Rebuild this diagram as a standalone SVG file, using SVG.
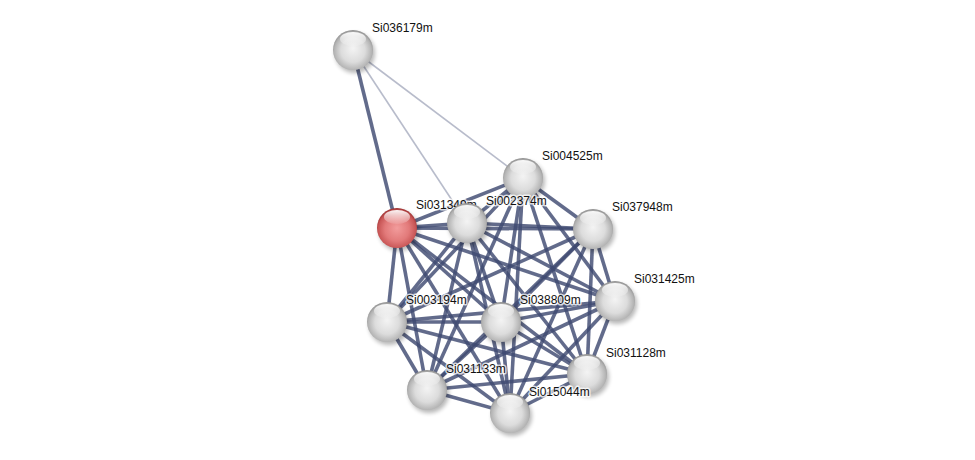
<svg xmlns="http://www.w3.org/2000/svg" width="975" height="460" viewBox="0 0 975 460">
<style>
.e{stroke:#3f4a72;stroke-opacity:0.82;stroke-width:3.6;stroke-linecap:butt;fill:none}
.l{stroke:#b8bccb;stroke-width:1.6;fill:none}
.lbl{font-family:"Liberation Sans",Arial,sans-serif;font-size:12px;fill:#111;stroke:#fff;stroke-opacity:0.75;stroke-width:3;paint-order:stroke;stroke-linejoin:round}
.ball{fill:url(#g)}
.red{fill:url(#r)}
.hi{fill:url(#h)}
.sh{fill:#000;opacity:0.28;filter:url(#b)}
</style>
<defs>
<radialGradient id="g" cx="50%" cy="55%" r="55%" fx="50%" fy="45%">
<stop offset="0" stop-color="#f4f4f4"/>
<stop offset="0.55" stop-color="#dcdcdc"/>
<stop offset="0.85" stop-color="#b4b4b4"/>
<stop offset="1" stop-color="#8e8e8e"/>
</radialGradient>
<radialGradient id="r" cx="50%" cy="55%" r="55%" fx="50%" fy="50%">
<stop offset="0" stop-color="#f29c9c"/>
<stop offset="0.55" stop-color="#e27a7a"/>
<stop offset="0.85" stop-color="#c85656"/>
<stop offset="1" stop-color="#9a2e2e"/>
</radialGradient>
<linearGradient id="h" x1="0" y1="0" x2="0" y2="1">
<stop offset="0" stop-color="#fff" stop-opacity="0.95"/>
<stop offset="1" stop-color="#fff" stop-opacity="0.1"/>
</linearGradient>
<filter id="b" x="-50%" y="-50%" width="200%" height="200%"><feGaussianBlur stdDeviation="2"/></filter>
<g id="sphere">
<circle class="sh" cx="2" cy="3" r="20"/>
<circle class="ball" r="20"/>
<ellipse class="hi" cx="0" cy="-11" rx="13" ry="7"/>
</g>
<g id="rsphere">
<circle class="sh" cx="2" cy="3" r="20"/>
<circle class="red" r="20"/>
<ellipse class="hi" cx="0" cy="-11" rx="13" ry="7"/>
</g>
</defs>
<rect width="975" height="460" fill="#fff"/>
<g id="connectors">
<line class="l" x1="353" y1="50" x2="467" y2="223"/>
<line class="l" x1="353" y1="50" x2="523" y2="178"/>
<line class="e" x1="353" y1="50" x2="397" y2="228"/>
<!-- R -->
<line class="e" x1="397" y1="228" x2="523" y2="178"/>
<line class="e" x1="397" y1="228" x2="467" y2="223"/>
<line class="e" x1="397" y1="228" x2="593" y2="229"/>
<line class="e" x1="397" y1="228" x2="615" y2="301"/>
<line class="e" x1="397" y1="228" x2="387" y2="322"/>
<line class="e" x1="397" y1="228" x2="501" y2="322"/>
<line class="e" x1="397" y1="228" x2="587" y2="374"/>
<line class="e" x1="397" y1="228" x2="427" y2="390"/>
<line class="e" x1="397" y1="228" x2="510" y2="413"/>
<!-- B -->
<line class="e" x1="523" y1="178" x2="467" y2="223"/>
<line class="e" x1="523" y1="178" x2="593" y2="229"/>
<line class="e" x1="523" y1="178" x2="615" y2="301"/>
<line class="e" x1="523" y1="178" x2="387" y2="322"/>
<line class="e" x1="523" y1="178" x2="501" y2="322"/>
<line class="e" x1="523" y1="178" x2="587" y2="374"/>
<line class="e" x1="523" y1="178" x2="427" y2="390"/>
<line class="e" x1="523" y1="178" x2="510" y2="413"/>
<!-- C -->
<line class="e" x1="467" y1="223" x2="593" y2="229"/>
<line class="e" x1="467" y1="223" x2="615" y2="301"/>
<line class="e" x1="467" y1="223" x2="387" y2="322"/>
<line class="e" x1="467" y1="223" x2="501" y2="322"/>
<line class="e" x1="467" y1="223" x2="587" y2="374"/>
<line class="e" x1="467" y1="223" x2="427" y2="390"/>
<line class="e" x1="467" y1="223" x2="510" y2="413"/>
<!-- D -->
<line class="e" x1="593" y1="229" x2="615" y2="301"/>
<line class="e" x1="593" y1="229" x2="387" y2="322"/>
<line class="e" x1="593" y1="229" x2="501" y2="322"/>
<line class="e" x1="593" y1="229" x2="587" y2="374"/>
<line class="e" x1="593" y1="229" x2="427" y2="390"/>
<line class="e" x1="593" y1="229" x2="510" y2="413"/>
<!-- E -->
<line class="e" x1="615" y1="301" x2="387" y2="322"/>
<line class="e" x1="615" y1="301" x2="501" y2="322"/>
<line class="e" x1="615" y1="301" x2="587" y2="374"/>
<line class="e" x1="615" y1="301" x2="427" y2="390"/>
<line class="e" x1="615" y1="301" x2="510" y2="413"/>
<!-- F -->
<line class="e" x1="387" y1="322" x2="501" y2="322"/>
<line class="e" x1="387" y1="322" x2="587" y2="374"/>
<line class="e" x1="387" y1="322" x2="427" y2="390"/>
<line class="e" x1="387" y1="322" x2="510" y2="413"/>
<!-- G -->
<line class="e" x1="501" y1="322" x2="587" y2="374"/>
<line class="e" x1="501" y1="322" x2="427" y2="390"/>
<line class="e" x1="501" y1="322" x2="510" y2="413"/>
<!-- H -->
<line class="e" x1="587" y1="374" x2="427" y2="390"/>
<line class="e" x1="587" y1="374" x2="510" y2="413"/>
<!-- I -->
<line class="e" x1="427" y1="390" x2="510" y2="413"/>
</g>
<g id="Si036179m"><use href="#sphere" x="353" y="50"/><text class="lbl" x="372" y="32">Si036179m</text></g>
<g id="Si031349m"><use href="#rsphere" x="397" y="228"/><text class="lbl" x="416" y="209">Si031349m</text></g>
<g id="Si004525m"><use href="#sphere" x="523" y="178"/><text class="lbl" x="542" y="160">Si004525m</text></g>
<g id="Si002374m"><use href="#sphere" x="467" y="223"/><text class="lbl" x="486" y="205">Si002374m</text></g>
<g id="Si037948m"><use href="#sphere" x="593" y="229"/><text class="lbl" x="612" y="211">Si037948m</text></g>
<g id="Si031425m"><use href="#sphere" x="615" y="301"/><text class="lbl" x="634" y="283">Si031425m</text></g>
<g id="Si003194m"><use href="#sphere" x="387" y="322"/><text class="lbl" x="406" y="304">Si003194m</text></g>
<g id="Si038809m"><use href="#sphere" x="501" y="322"/><text class="lbl" x="520" y="304">Si038809m</text></g>
<g id="Si031128m"><use href="#sphere" x="587" y="374"/><text class="lbl" x="606" y="357">Si031128m</text></g>
<g id="Si031133m"><use href="#sphere" x="427" y="390"/><text class="lbl" x="446" y="373">Si031133m</text></g>
<g id="Si015044m"><use href="#sphere" x="510" y="413"/><text class="lbl" x="529" y="396">Si015044m</text></g>
</svg>
